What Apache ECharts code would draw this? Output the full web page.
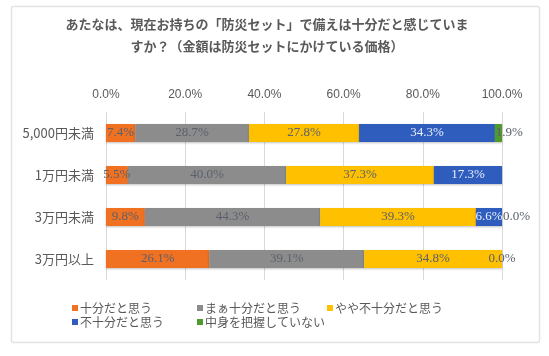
<!DOCTYPE html>
<html><head><meta charset="utf-8">
<script src="https://cdn.jsdelivr.net/npm/echarts@6/dist/echarts.min.js"></script>
<style>html,body{margin:0;padding:0;background:#fff}#c{width:549px;height:356px}</style>
</head><body><div id="c"></div>
<script>
const categories = ['5,000円未満', '1万円未満', '3万円未満', '3万円以上'];
const seriesNames = ['十分だと思う', 'まぁ十分だと思う', 'やや不十分だと思う', '不十分だと思う', '中身を把握していない'];
const s1 = [7.4, 5.5, 9.8, 26.1];
const s2 = [28.7, 40.0, 44.3, 39.1];
const s3 = [27.8, 37.3, 39.3, 34.8];
const s4 = [34.3, 17.3, 6.6, 0.0];
const s5 = [1.9, null, 0.0, null];
const tickValues = [0, 20, 40, 60, 80, 100];
const colors = ['#F07122', '#8C8C8C', '#FFC000', '#2E5DBE', '#4E9A2E'];
const titleText = 'あたなは、現在お持ちの「防災セット」で備えは十分だと感じていま\nすか？（金額は防災セットにかけている価格）';

const chart = echarts.init(document.getElementById('c'));
const allData = [s1, s2, s3, s4, s5];
const labelFont = "'Liberation Serif', 'Noto Sans CJK JP', serif";
const series = allData.map((d, i) => ({
  name: seriesNames[i],
  type: 'bar',
  stack: 'total',
  data: d.map(v => ({
    value: v,
    label: { color: (i === 3 && v > 0) ? '#E8EEFA' : '#5A606C' }
  })),
  barCategoryGap: '57%',
  itemStyle: { color: colors[i], shadowBlur: 2, shadowColor: 'rgba(0,0,0,0.25)', shadowOffsetY: 1 },
  label: {
    show: true,
    position: i === 4 ? 'insideLeft' : 'inside',
    distance: 1,
    fontFamily: labelFont,
    fontSize: 13,
    formatter: p => (p.value == null ? '' : p.value.toFixed(1) + '%')
  }
}));

const legendPos = [[72, 302], [197, 302], [327, 302], [72, 316], [197, 316]];
const legends = seriesNames.map((n, i) => ({
  data: [n],
  left: legendPos[i][0], top: legendPos[i][1],
  itemWidth: 6, itemHeight: 6, icon: 'rect', padding: 0,
  textStyle: { fontFamily: "'Noto Sans CJK JP', sans-serif", fontSize: 12, color: '#595959', padding: [0, 0, 0, -3] }
}));

chart.setOption({
  animation: false,
  backgroundColor: '#fff',
  color: colors,
  graphic: [{
    type: 'rect', shape: { x: 11.5, y: 6.5, width: 528, height: 336, r: 2 },
    style: { fill: 'none', stroke: '#E3E3E3', lineWidth: 1.5 }, silent: true, z: -1
  }],
  title: {
    text: titleText,
    left: 262, top: 8, textAlign: 'center',
    textStyle: { fontFamily: "'Noto Sans CJK JP', sans-serif", fontSize: 13, fontWeight: 'bold', color: '#595959', lineHeight: 22 }
  },
  legend: legends,
  grid: { left: 106, right: 47, top: 112, bottom: 76, containLabel: false },
  xAxis: {
    type: 'value', position: 'top', min: 0, max: 100, interval: 20,
    axisLine: { show: false }, axisTick: { show: false },
    splitLine: { show: true, lineStyle: { color: '#D9D9D9', width: 1 } },
    axisLabel: { color: '#595959', fontSize: 12, fontFamily: "'Liberation Sans', sans-serif", margin: 11,
      formatter: v => v.toFixed(1) + '%' }
  },
  yAxis: {
    type: 'category', data: categories, inverse: true,
    axisLine: { show: false }, axisTick: { show: false },
    axisLabel: { color: '#595959', fontSize: 13, fontFamily: "'Noto Sans CJK JP', sans-serif", margin: 12 }
  },
  series: series
});
</script></body></html>
